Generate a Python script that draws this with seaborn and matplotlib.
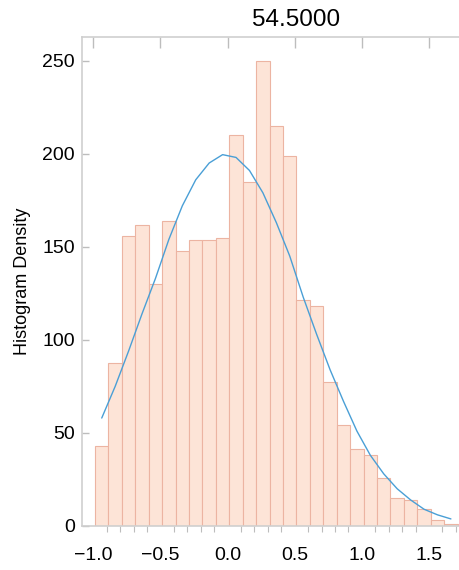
import matplotlib
matplotlib.use("Agg")
import matplotlib.pyplot as plt
import seaborn as sns
import numpy as np
from matplotlib.ticker import MultipleLocator

sns.set_style("white")
plt.rcParams['font.family'] = ['Liberation Sans', 'DejaVu Sans']
plt.rcParams['text.color'] = 'black'
plt.rcParams['axes.labelcolor'] = 'black'
plt.rcParams['xtick.labelcolor'] = 'black'
plt.rcParams['ytick.labelcolor'] = 'black'

# ---- data ----
title_text = "54.5000"
ylabel_text = "Histogram Density"
bin_start = -0.987
bin_width = 0.1
hist_heights = [43.2, 87.6, 155.8, 161.5, 129.9, 163.7, 147.7, 153.8, 153.8, 154.7,
                209.9, 184.8, 250.0, 214.7, 198.6, 121.3, 118.4, 77.4, 54.3, 41.1,
                38.0, 26.0, 15.3, 14.2, 9.3, 3.4, 1.1]
curve_values = [58, 75, 94, 114, 133, 154, 172, 186, 195, 199.5,
                198, 191, 179, 163, 145, 123, 103, 84, 67, 51,
                38, 28, 20, 14, 9, 6, 3.8]
x_ticks = [-1.0, -0.5, 0.0, 0.5, 1.0, 1.5]
y_ticks = [0, 50, 100, 150, 200, 250]

n_bins = len(hist_heights)
bin_edges = [bin_start + i * bin_width for i in range(n_bins + 1)]
bin_centers = [bin_start + (i + 0.5) * bin_width for i in range(n_bins)]

fig = plt.figure(figsize=(4.59, 5.70), dpi=100)
ax = fig.add_axes([82/459, 1 - 526/570, (510 - 82)/459, (526 - 37)/570])

sns.histplot(x=bin_centers, weights=hist_heights, bins=bin_edges, ax=ax,
             color="#fde4d7", edgecolor="#ecb4a2", linewidth=0.8, alpha=1.0)
sns.lineplot(x=bin_centers, y=curve_values, ax=ax, color="#4a9fd6", linewidth=1.0)

ax.set_xlim(-1.084, 2.103)
ax.set_ylim(0, 262.7)
ax.set_xticks(x_ticks)
ax.set_xticklabels([f"{t:.1f}".replace("-", "\u2212") for t in x_ticks])
ax.xaxis.set_minor_locator(MultipleLocator(0.1))
ax.set_yticks(y_ticks)
ax.set_yticklabels([str(t) for t in y_ticks])

spine_col = "#cfcfcf"
for s in ax.spines.values():
    s.set_color(spine_col)
    s.set_linewidth(1.2)
ax.spines['right'].set_visible(False)

ax.tick_params(axis='x', which='major', direction='out', length=8, width=1.0,
               color="#bdbdbd", labelcolor="black", labelsize=14, pad=7, top=True, labeltop=False)
ax.tick_params(axis='x', which='minor', direction='out', length=4, width=0.8,
               color="#bdbdbd", bottom=True, top=False)
ax.tick_params(axis='y', which='major', direction='in', length=5, width=1.0,
               color="#bdbdbd", labelcolor="black", labelsize=14, pad=5, left=True)

# top ticks pointing inward
for t in ax.xaxis.get_major_ticks():
    t.tick2line.set_marker(matplotlib.lines.TICKDOWN)
    t.tick2line.set_markersize(8)

ax.set_xlabel("")
ax.set_ylabel(ylabel_text, fontsize=13, labelpad=8, color="black")
ax.set_title(title_text, fontsize=17.5, pad=8, color="black")

fig.savefig("out.png", dpi=100)
